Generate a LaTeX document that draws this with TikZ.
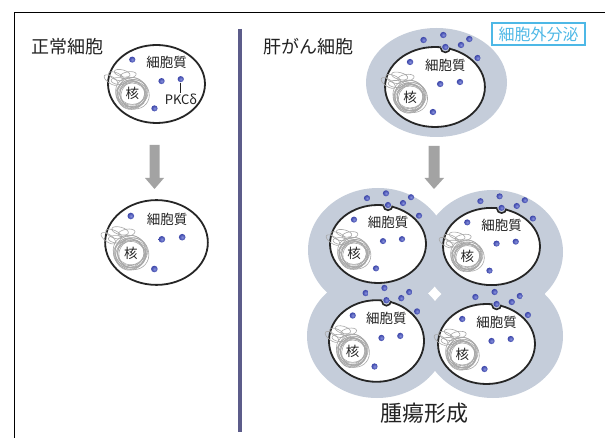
\documentclass[tikz,border=0pt]{standalone}
\usepackage{fontspec}
\setmainfont{Noto Sans CJK JP}
\usetikzlibrary{calc}

\definecolor{halo}{RGB}{197,205,218}
\definecolor{divider}{RGB}{92,92,138}
\definecolor{arrowgray}{RGB}{163,163,163}
\definecolor{secblue}{RGB}{78,184,230}
\definecolor{dotdark}{RGB}{58,68,168}
\definecolor{dotlight}{RGB}{135,145,220}
\definecolor{nucgray}{RGB}{168,168,168}
\definecolor{ink}{RGB}{34,34,34}

\tikzset{
  membrane/.style={draw=black!85, line width=1.8, fill=white},
  membraneline/.style={draw=black!85, line width=1.6},
  nucline/.style={draw=nucgray, line width=0.6},
  pkc/.style={shading=radial, inner color=dotlight, outer color=dotdark},
  celltext/.style={font=\fontsize{13.5}{14}\selectfont, text=ink, inner sep=0},
  title/.style={font=\fontsize{18}{18}\selectfont, text=ink, inner sep=0},
  flowarrow/.style={fill=arrowgray},
}

% scribbled nucleus, centred at (-24,10) of the cell frame
\newcommand\nucleus{%
  \begin{scope}[shift={(-24,10)}]
    \foreach \r/\a/\dx/\dy in {12.5/0/0/0, 13.5/25/0.6/-0.4, 14.5/-20/-0.5/0.5,
        15.5/50/0.4/0.6, 16.5/80/-0.6/-0.3, 14/110/0.3/0.2, 17.5/-40/0.2/-0.6,
        15/140/-0.4/0.3, 13/65/0.5/0.5, 16/15/-0.3/-0.5}
      \draw[nucline, shift={(\dx,\dy)}, rotate=\a] (0,0) ellipse ({\r} and {\r*0.88});
    \foreach \x/\y/\a in {-16/-18/-25, -10/-21/-15, -21/-14/-35, -4/-19/10, -13/-13/-5}
      \draw[nucline, shift={(\x,\y)}, rotate=\a] (0,0) ellipse (8 and 3.5);
  \end{scope}}

% notch in the membrane with PKC-delta leaving the cell
\newcommand\secreting{%
  \fill[halo] (10,-39.2) circle (4.6);
  \draw[membraneline] (14.6,-39.2) arc (0:180:4.6);
  \foreach \px/\py in {10/-40, -11/-47, 8/-52, 33/-48, 25/-42, 41/-29}
    \shade[pkc] (\px,\py) circle (3.1);}

% #1 name, #2 #3 centre, #4 #5 scale, #6 extra drawing
\newcommand\cellbody[6]{%
  \begin{scope}[shift={(#2,#3)}, xscale=#4, yscale=#5]
    \draw[membrane] (0,0) ellipse (48 and 40);
    #6
    \nucleus
    \node[celltext] (#1-cyto) at (10,-22) {細胞質};
    \node[celltext] (#1-nuc) at (-24,10) {核};
    \foreach \px/\py in {-24/-25, 5/-3, -2/25}
      \shade[pkc] (\px,\py) circle (3.1);
    \coordinate (#1-dot) at (24,-5);
    \shade[pkc] (#1-dot) circle (3.1);
  \end{scope}}

\begin{document}
\begin{tikzpicture}[x=1pt, y=-1pt]
  \useasboundingbox (0,0) rectangle (605,438);

  % frame and divider
  \draw[line width=0.9] (14,438) -- (14,12) -- (605,12);
  \draw[divider, line width=4.5] (240,29) -- (240,432);

  % ---- normal cells ----
  \node[title] (normal) at (67,47) {正常細胞};
  \cellbody{n1}{156.5}{84}{1.01}{0.975}{}
  \node[celltext, font=\fontsize{13}{13}\selectfont] (pkclabel) at (181,99) {PKCδ};
  \draw[ink, line width=0.8] ($(n1-dot)+(0,3.5)$) -- ($(pkclabel.north -| n1-dot)+(0,-0.5)$);
  \fill[flowarrow] (149.5,145) -- (159.5,145) -- (159.5,178) -- (164,178)
    -- (154.5,189) -- (145,178) -- (149.5,178) -- cycle;
  \cellbody{n2}{156.5}{242.5}{1.07}{1.06}{}

  % ---- liver cancer cells ----
  \node[title] (hcc) at (308,47) {肝がん細胞};
  \node[draw=secblue, line width=1.3, text=secblue, minimum width=93, minimum height=22,
        inner sep=0, font=\fontsize{16}{16}\selectfont] (secretion) at (538.5,34) {細胞外分泌};
  \fill[halo] (436.5,82.5) ellipse (70.5 and 54.5);
  \cellbody{c0}{435}{87}{1.04}{1.0}{\secreting}
  \fill[flowarrow] (428.5,146) -- (439.5,146) -- (439.5,178) -- (444,178)
    -- (434,189) -- (424.5,178) -- (428.5,178) -- cycle;

  % tumour: four secreting cells
  \fill[halo] (378,250) ellipse (70 and 62);
  \fill[halo] (493,252) ellipse (70 and 62);
  \fill[halo] (377,336) ellipse (70 and 62);
  \fill[halo] (493,336) ellipse (70 and 62);
  \cellbody{c1}{378}{244}{1.0}{0.975}{\secreting}
  \cellbody{c2}{491.5}{246.5}{1.01}{0.965}{\secreting}
  \cellbody{c3}{376.5}{341}{0.99}{1.02}{\secreting}
  \cellbody{c4}{486.5}{344}{1.01}{1.0}{\secreting}
  \node[title, font=\fontsize{22}{22}\selectfont] (tumor) at (424,413) {腫瘍形成};
\end{tikzpicture}
\end{document}
